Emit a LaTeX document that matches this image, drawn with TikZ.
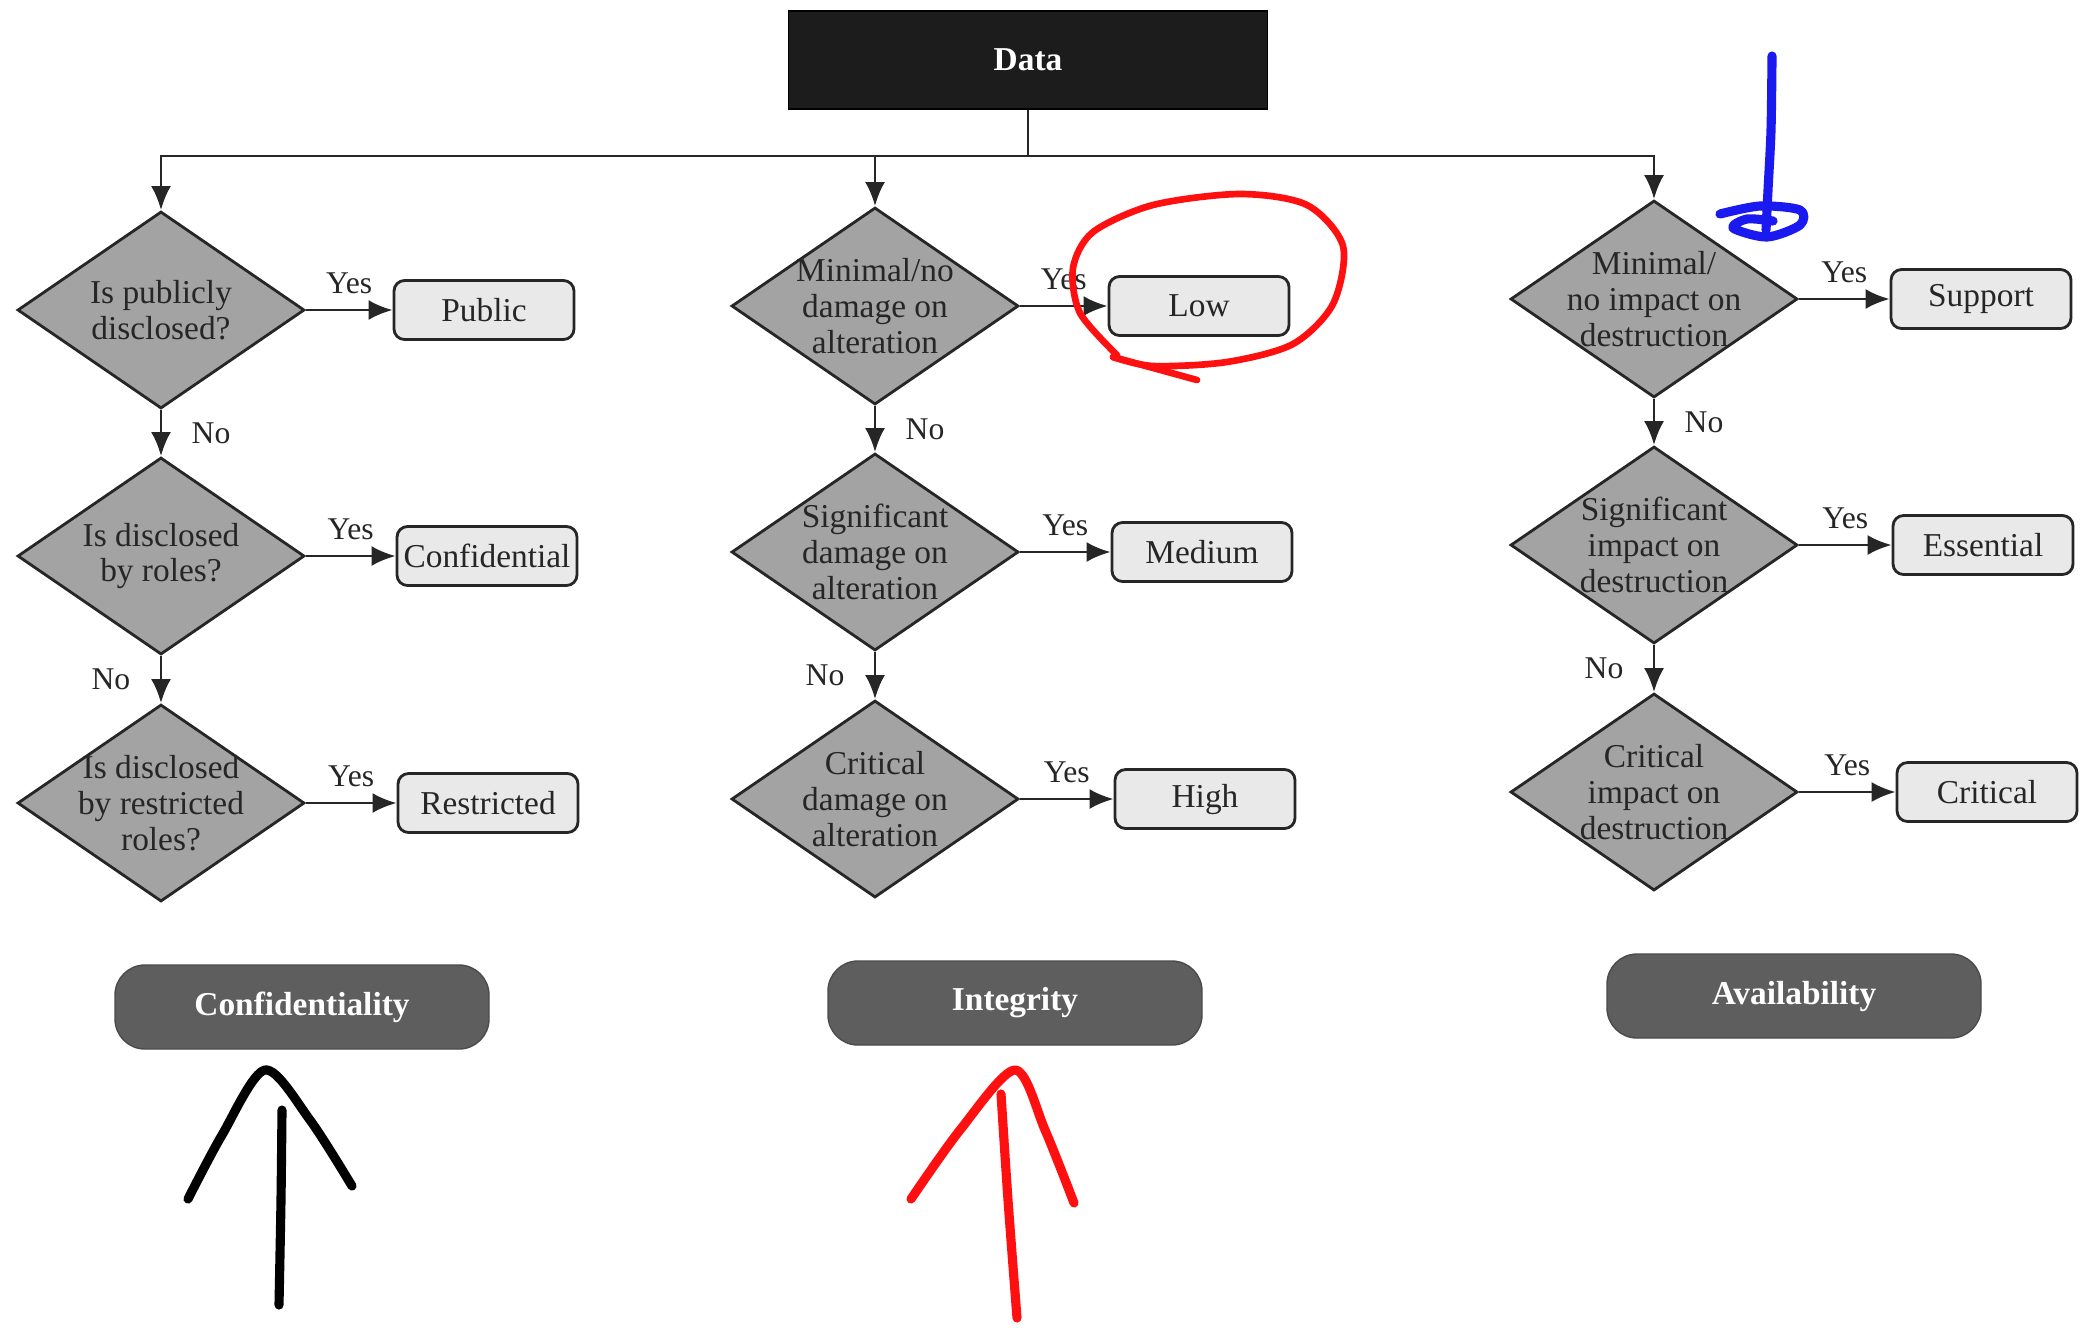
\documentclass[tikz,border=0pt]{standalone}
\usepackage{fontspec}
\setmainfont{Liberation Serif}
\usetikzlibrary{positioning, arrows.meta, shapes.geometric}
\definecolor{Ink}{HTML}{262626}
\definecolor{Night}{HTML}{1C1C1C}
\definecolor{Stone}{HTML}{A3A3A3}
\definecolor{Mist}{HTML}{E9E9E9}
\definecolor{Slate}{HTML}{5E5E5E}
\definecolor{PenRed}{HTML}{FF1010}
\definecolor{PenBlue}{HTML}{1A1AF0}
\tikzset{
    datanode/.style={rectangle, fill=Night, draw=black, text=white, minimum width=4.79cm, minimum height=0.98cm, font=\bfseries\fontsize{9.5}{11}\selectfont},
    decision/.style={diamond, aspect=1.46, fill=Stone, draw=Ink, line width=0.8pt, inner sep=-3pt, minimum width=2.87cm, minimum height=1.97cm, align=center, text=Ink, font=\fontsize{9.5}{10.2}\selectfont},
    result/.style={rectangle, rounded corners=3pt, fill=Mist, draw=Ink, line width=0.8pt, inner sep=1.5pt, minimum width=1.80cm, minimum height=0.59cm, text=Ink, font=\fontsize{9.5}{11}\selectfont},
    category/.style={rectangle, rounded corners=0.3cm, fill=Slate, draw=Slate!80!black, text=white, minimum width=3.74cm, minimum height=0.84cm, font=\bfseries\fontsize{9.5}{11}\selectfont},
    arrow/.style={-{Latex[length=2.4mm, width=2mm]}, line width=0.8pt, color=Ink},
    answer/.style={text=Ink, font=\fontsize{9}{11}\selectfont},
    pen/.style={line width=2.6pt, line cap=round, line join=round},
}

\begin{document}
\begin{tikzpicture}
    \useasboundingbox (0,0) rectangle (20.85,-13.30);
    \node[datanode] (data) at (10.28,-0.60) {Data};
    \coordinate (split) at (10.28,-1.56);

    % confidentiality
    \node[decision] (d1) at (1.61,-3.10) {Is publicly\\disclosed?};
    \node[decision] (d2) at (1.61,-5.56) {Is disclosed\\by roles?};
    \node[decision] (d3) at (1.61,-8.03) {Is disclosed\\by restricted\\roles?};
    \node[result] (pub) at (4.84,-3.10) {Public};
    \node[result] (conf) at (4.87,-5.56) {Confidential};
    \node[result] (restr) at (4.88,-8.03) {Restricted};

    % integrity
    \node[decision] (d4) at (8.75,-3.06) {Minimal/no\\damage on\\alteration};
    \node[decision] (d5) at (8.75,-5.52) {Significant\\damage on\\alteration};
    \node[decision] (d6) at (8.75,-7.99) {Critical\\damage on\\alteration};
    \node[result] (low) at (11.99,-3.06) {Low};
    \node[result] (med) at (12.02,-5.52) {Medium};
    \node[result] (high) at (12.05,-7.99) {High};

    % availability
    \node[decision] (d7) at (16.54,-2.99) {Minimal/\\no impact on\\destruction};
    \node[decision] (d8) at (16.54,-5.45) {Significant\\impact on\\destruction};
    \node[decision] (d9) at (16.54,-7.92) {Critical\\impact on\\destruction};
    \node[result] (supp) at (19.81,-2.99) {Support};
    \node[result] (ess) at (19.83,-5.45) {Essential};
    \node[result] (crit) at (19.87,-7.92) {Critical};

    \node[category] (cat1) at (3.02,-10.07) {Confidentiality};
    \node[category] (cat2) at (10.15,-10.03) {Integrity};
    \node[category] (cat3) at (17.94,-9.96) {Availability};

    \draw[line width=0.8pt, Ink] (data.south) -- (split);
    \foreach \d in {d1,d4,d7} \draw[arrow] (split) -| (\d.north);
    \foreach \d/\r in {d1/pub, d2/conf, d3/restr, d4/low, d5/med, d6/high, d7/supp, d8/ess, d9/crit}
        \draw[arrow] (\d.east) -- node[answer, above=1pt] {Yes} (\r.west);
    \foreach \a/\b/\s in {d1/d2/right, d2/d3/left, d4/d5/right, d5/d6/left, d7/d8/right, d8/d9/left}
        \draw[arrow] (\a.south) -- node[answer, \s=5pt] {No} (\b.north);

    % pen marks
    \draw[pen, PenBlue] plot[smooth] coordinates {(17.72,-0.56) (17.71,-1.30) (17.68,-1.90) (17.66,-2.30)};
    \draw[pen, PenBlue] plot[smooth] coordinates {(17.20,-2.14) (17.60,-2.06) (18.00,-2.10) (18.00,-2.25) (17.67,-2.37) (17.33,-2.28) (17.47,-2.19) (17.73,-2.21)};
    \draw[pen, PenRed, line width=1.9pt] plot[smooth] coordinates {(11.17,-3.55) (10.80,-3.13) (10.73,-2.68) (10.93,-2.32) (11.53,-2.05) (12.40,-1.94) (13.07,-2.05) (13.43,-2.46) (13.33,-3.04) (12.93,-3.44) (12.27,-3.62) (11.53,-3.66) (11.13,-3.57)};
    \draw[pen, PenRed, line width=1.9pt] (11.13,-3.57) -- (11.97,-3.80);
    \draw[pen, black] plot[smooth] coordinates {(2.82,-11.10) (2.81,-12.00) (2.79,-13.05)};
    \draw[pen, black] plot[smooth] coordinates {(1.88,-11.99) (2.22,-11.35) (2.65,-10.70) (3.10,-11.20) (3.52,-11.86)};
    \draw[pen, PenRed] plot[smooth] coordinates {(10.01,-10.94) (10.08,-12.00) (10.17,-13.18)};
    \draw[pen, PenRed] plot[smooth] coordinates {(9.11,-11.99) (9.60,-11.30) (10.15,-10.70) (10.45,-11.30) (10.74,-12.03)};
\end{tikzpicture}
\end{document}
